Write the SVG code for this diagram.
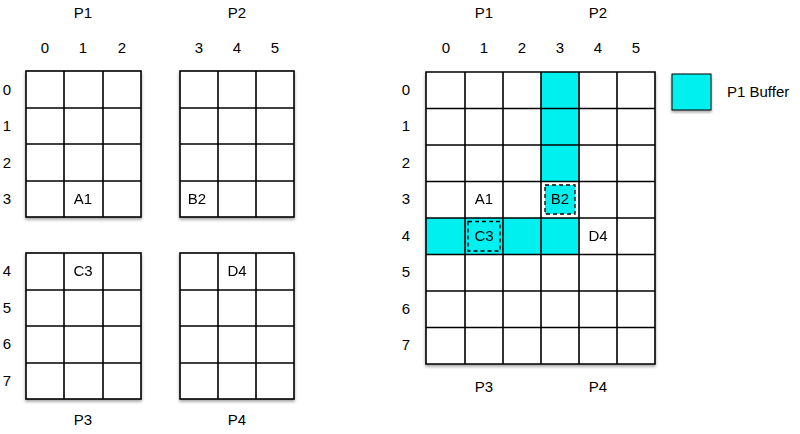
<svg xmlns="http://www.w3.org/2000/svg" width="800" height="434" viewBox="0 0 800 434">
<defs>
<filter id="sh" x="-10%" y="-10%" width="120%" height="120%"><feDropShadow dx="0" dy="2" stdDeviation="1.5" flood-color="#000" flood-opacity="0.35"/></filter>
<pattern id="g" width="38.2" height="36.5" patternUnits="userSpaceOnUse"><path d="M0 0H38.2M0 0V36.5" fill="none" stroke="#000" stroke-width="1.6"/></pattern>
</defs>
<style>
text{font-family:"Liberation Sans",Arial,sans-serif;font-size:15px;fill:#000;text-anchor:middle}
.ln{stroke:#000;stroke-width:1.6;fill:none}
.c{fill:#00f0f0}
.d{fill:none;stroke:#000;stroke-width:1.3;stroke-dasharray:4,3}
</style>
<g id="labels">
<text x="83" y="18">P1</text><text x="237" y="18">P2</text>
<text x="83" y="425">P3</text><text x="237" y="425">P4</text>
<text x="45" y="53">0</text><text x="83" y="53">1</text><text x="122" y="53">2</text>
<text x="199" y="53">3</text><text x="237" y="53">4</text><text x="275" y="53">5</text>
<text x="7" y="95">0</text><text x="7" y="131">1</text><text x="7" y="168">2</text><text x="7" y="204">3</text>
<text x="7" y="276">4</text><text x="7" y="313">5</text><text x="7" y="349">6</text><text x="7" y="386">7</text>
<text x="484" y="18">P1</text><text x="598" y="18">P2</text>
<text x="484" y="392">P3</text><text x="598" y="392">P4</text>
<text x="446" y="53">0</text><text x="484" y="53">1</text><text x="522" y="53">2</text><text x="560" y="53">3</text><text x="598" y="53">4</text><text x="636" y="53">5</text>
<text x="406" y="95">0</text><text x="406" y="131">1</text><text x="406" y="168">2</text><text x="406" y="204">3</text><text x="406" y="241">4</text><text x="406" y="277">5</text><text x="406" y="314">6</text><text x="406" y="350">7</text>
</g>
<g id="gridP1" filter="url(#sh)"><rect x="26" y="71" width="115" height="146" fill="#fff" stroke="#000" stroke-width="1.6"/>
<path class="ln" d="M64 71V217M103 71V217M26 108H141M26 144H141M26 181H141"/><text x="83" y="204">A1</text></g>
<g id="gridP2" filter="url(#sh)"><rect x="180" y="71" width="114" height="146" fill="#fff" stroke="#000" stroke-width="1.6"/>
<path class="ln" d="M218 71V217M256 71V217M180 108H294M180 144H294M180 181H294"/><text x="197" y="204">B2</text></g>
<g id="gridP3" filter="url(#sh)"><rect x="26" y="253" width="115" height="146" fill="#fff" stroke="#000" stroke-width="1.6"/>
<path class="ln" d="M64 253V399M103 253V399M26 290H141M26 326H141M26 363H141"/><text x="83" y="276">C3</text></g>
<g id="gridP4" filter="url(#sh)"><rect x="180" y="253" width="114" height="146" fill="#fff" stroke="#000" stroke-width="1.6"/>
<path class="ln" d="M218 253V399M256 253V399M180 290H294M180 326H294M180 363H294"/><text x="237" y="276">D4</text></g>
<g id="bigGrid" filter="url(#sh)">
<rect x="426" y="72" width="229" height="292" fill="#fff"/>
<rect class="c" x="541" y="72" width="38.2" height="109.5"/>
<rect class="c" x="426" y="218" width="153" height="36.5"/>
<rect class="c" x="545" y="185" width="30" height="29"/>
<path class="ln" d="M426 72H655V364H426Z M465 72V364M503 72V364M541 72V364M579 72V364M617 72V364M426 108.5H655M426 145H655M426 181.5H655M426 218H655M426 254.5H655M426 291H655M426 327.5H655"/>
<rect class="d" x="545" y="185" width="30" height="29"/>
<rect class="d" x="468" y="221.5" width="32" height="29.5"/>
<text x="484" y="204">A1</text><text x="560" y="204">B2</text><text x="484" y="241">C3</text><text x="598" y="241">D4</text>
</g>
<g id="legend"><rect class="c" x="672" y="74" width="39" height="36" stroke="#000" stroke-width="1" filter="url(#sh)"/>
<text x="727" y="97" style="text-anchor:start">P1 Buffer</text></g>
</svg>
